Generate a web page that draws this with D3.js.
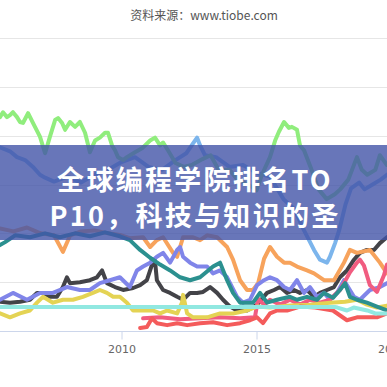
<!DOCTYPE html>
<html>
<head>
<meta charset="utf-8">
<script src="https://d3js.org/d3.v7.min.js"></script>
<style>
  body { margin: 0; background: #fff; }
  svg { display: block; }
</style>
</head>
<body>
<script>
// TIOBE style ratings (%), [year, rating]
var cLang = [[2005.5,18.8],[2005.69,18.6],[2005.87,18.4],[2006.13,17.8],[2006.43,17.5],[2006.72,16.8],[2006.98,16.0],[2007.17,15.7],
  [2007.5,15.3],[2008.0,15.8],[2008.5,15.2],[2009.0,16.0],[2009.5,16.5],[2010.0,17.3],[2010.5,17.8],[2011.0,16.8],[2011.5,16.5],
  [2012.0,17.5],[2012.4,18.2],[2012.65,19.2],[2012.8,19.8],[2012.91,19.0],[2013.09,18.0],[2013.5,17.8],[2014.0,16.8],[2014.5,17.0],
  [2015.0,16.2],[2015.5,15.8],[2016.0,13.5],[2016.4,12.5],[2016.76,10.3],[2017.13,8.3],[2017.35,7.3],[2017.61,7.0],[2017.72,7.6],
  [2017.91,9.0],[2018.06,10.3],[2018.3,13.0],[2018.5,14.6],[2018.8,15.2],[2019.0,14.5],[2019.3,15.0],[2019.6,15.5],[2019.83,16.0]];
var python = [[2005.5,3.0],[2005.87,2.9],[2006.24,3.0],[2006.61,3.2],[2006.87,3.9],[2007.09,3.9],[2007.35,3.5],[2007.61,3.5],
  [2007.83,4.5],[2007.98,5.5],[2008.09,4.9],[2008.46,5.0],[2008.83,5.2],[2009.09,5.5],[2009.28,6.2],[2009.46,4.9],[2009.76,4.5],
  [2010.06,4.2],[2010.43,4.4],[2010.69,4.7],[2010.94,5.2],[2011.13,6.8],[2011.24,7.2],[2011.31,5.2],[2011.54,4.2],[2011.8,3.9],
  [2012.06,3.5],[2012.28,3.2],[2012.54,3.9],[2012.8,3.9],[2013.02,4.0],[2013.28,4.5],[2013.54,3.9],[2013.76,3.2],[2014.02,2.5],
  [2014.28,2.1],[2014.65,2.1],[2015.02,2.7],[2015.39,3.9],[2015.65,4.2],[2015.87,4.5],[2016.13,3.9],[2016.39,4.2],[2016.61,3.9],
  [2016.87,4.2],[2017.13,3.5],[2017.35,3.9],[2017.61,4.2],[2017.87,4.5],[2018.09,5.5],[2018.35,6.2],[2018.61,7.3],[2018.83,8.0],
  [2019.09,8.3],[2019.35,8.3],[2019.57,9.0],[2019.83,9.6]];
var java = [[2005.5,21.9],[2005.61,22.4],[2005.76,21.9],[2005.87,22.1],[2005.98,22.4],[2006.13,21.9],[2006.24,21.4],[2006.35,21.3],
  [2006.54,22.3],[2006.72,21.3],[2006.98,19.9],[2007.17,18.2],[2007.35,19.9],[2007.54,21.6],[2007.65,21.8],[2007.8,21.3],
  [2007.91,20.6],[2008.09,21.4],[2008.28,20.9],[2008.46,21.4],[2008.65,20.3],[2008.83,18.3],[2009.02,19.5],[2009.2,19.8],
  [2009.39,20.3],[2009.5,20.3],[2009.65,19.0],[2009.76,18.5],[2009.87,17.8],[2010.06,17.5],[2010.2,17.8],[2010.5,18.3],
  [2010.76,18.7],[2011.06,19.5],[2011.24,19.8],[2011.43,19.0],[2011.54,19.3],[2011.72,18.5],[2012.0,17.2],[2012.3,16.8],
  [2012.6,17.0],[2013.0,17.6],[2013.3,18.0],[2013.6,16.5],[2014.0,16.5],[2014.3,15.5],[2014.7,15.0],[2015.0,14.4],[2015.2,16.0],
  [2015.5,17.8],[2015.69,19.5],[2015.83,20.4],[2016.02,21.4],[2016.2,20.8],[2016.31,20.9],[2016.5,20.6],[2016.61,19.0],
  [2016.76,18.5],[2017.0,16.8],[2017.3,14.5],[2017.6,13.5],[2017.9,14.0],[2018.1,14.5],[2018.4,15.5],[2018.72,17.8],
  [2018.9,16.5],[2019.1,16.0],[2019.4,16.5],[2019.57,18.0],[2019.83,17.0]];
var cpp = [[2005.5,10.5],[2006.0,10.2],[2006.5,10.6],[2007.0,10.0],[2007.5,9.8],[2007.83,8.1],[2008.1,9.8],[2008.5,10.2],
  [2009.0,10.3],[2009.5,10.0],[2010.0,9.8],[2010.3,9.5],[2010.8,9.6],[2011.06,8.6],[2011.31,9.3],[2011.54,9.6],[2011.91,8.0],
  [2012.06,7.6],[2012.28,9.6],[2012.65,9.6],[2012.91,9.3],[2013.17,9.8],[2013.54,9.6],[2013.91,8.6],[2014.13,7.3],[2014.39,5.2],
  [2014.65,4.2],[2014.87,4.2],[2015.06,4.9],[2015.28,7.4],[2015.5,8.6],[2015.76,7.6],[2016.02,7.0],[2016.24,7.0],[2016.5,6.6],
  [2016.87,6.2],[2017.13,5.9],[2017.5,5.2],[2017.87,5.2],[2018.24,7.0],[2018.46,8.3],[2018.72,8.0],[2019.2,8.3],[2019.57,7.0],
  [2019.83,5.9]];
var csharp = [[2005.5,3.2],[2005.98,3.9],[2006.5,3.2],[2006.98,3.9],[2007.46,3.9],[2007.98,4.5],[2008.46,4.2],[2008.83,4.2],
  [2009.2,4.9],[2009.57,5.2],[2009.94,5.5],[2010.31,4.5],[2010.57,6.2],[2010.8,6.6],[2011.06,7.0],[2011.31,7.6],[2011.54,8.0],
  [2011.8,7.0],[2012.06,8.3],[2012.17,8.6],[2012.28,7.6],[2012.54,7.0],[2012.8,6.6],[2013.17,6.6],[2013.39,5.9],[2013.65,6.2],
  [2013.91,5.5],[2014.02,4.9],[2014.28,3.5],[2014.5,2.9],[2014.76,3.2],[2015.02,4.7],[2015.28,5.2],[2015.5,5.5],[2015.76,5.2],
  [2016.02,4.5],[2016.24,4.2],[2016.5,5.2],[2016.76,3.9],[2016.98,4.5],[2017.24,3.5],[2017.5,3.9],[2017.72,3.2],[2017.98,3.9],
  [2018.24,5.2],[2018.61,3.5],[2018.83,3.2],[2019.2,4.2],[2019.57,4.5],[2019.83,4.9]];
var vbnet = [[2010.8,1.3],[2011.43,1.4],[2012.17,1.2],[2012.91,1.3],[2013.65,1.4],[2014.39,1.3],[2014.94,1.4],[2015.06,3.3],
  [2015.28,2.7],[2015.5,3.2],[2015.87,2.7],[2016.24,3.2],[2016.61,2.7],[2016.98,3.2],[2017.35,2.9],[2017.72,3.2],[2018.09,4.2],
  [2018.24,4.9],[2018.46,6.0],[2018.72,7.0],[2018.83,7.3],[2018.98,6.7],[2019.2,4.7],[2019.46,4.0],[2019.72,5.7],[2019.83,6.8]];
var jsLang = [[2005.5,1.8],[2005.87,1.4],[2006.24,1.8],[2006.61,2.1],[2006.87,2.9],[2007.09,3.5],[2007.46,2.9],[2007.83,3.2],
  [2008.2,3.2],[2008.57,3.5],[2008.94,3.9],[2009.2,4.2],[2009.46,3.9],[2009.69,3.5],[2009.94,3.5],[2010.2,2.9],[2010.43,2.1],
  [2010.8,2.1],[2011.17,2.1],[2011.43,1.8],[2011.69,2.1],[2012.06,1.8],[2012.24,2.9],[2012.28,3.7],[2012.43,1.8],[2012.65,1.4],
  [2013.17,1.4],[2013.65,1.8],[2014.13,1.8],[2014.65,2.1],[2015.02,2.5],[2015.5,2.4],[2016.24,2.6],[2016.98,2.7],[2017.72,2.9],
  [2018.28,3.0],[2018.72,3.2],[2019.09,2.7],[2019.46,2.4],[2019.83,2.6]];
var php = [[2005.5,8.8],[2005.69,9.1],[2006.06,9.8],[2006.61,9.6],[2007.17,10.0],[2007.72,9.6],[2008.28,10.0],[2008.83,9.7],
  [2009.39,10.1],[2009.94,9.7],[2010.31,9.3],[2010.69,8.3],[2011.06,7.5],[2011.43,6.8],[2011.8,6.2],[2012.17,5.5],[2012.54,5.2],
  [2012.91,5.5],[2013.39,6.6],[2013.65,7.0],[2013.91,5.2],[2014.13,3.9],[2014.39,2.9],[2014.87,2.9],[2015.13,3.9],[2015.39,2.9],
  [2015.76,3.2],[2016.24,3.5],[2016.5,3.2],[2016.87,3.5],[2017.24,3.2],[2017.5,3.9],[2017.83,3.4],[2018.09,4.2],[2018.28,4.9],
  [2018.46,3.5],[2018.72,3.2],[2019.09,2.9],[2019.46,2.5],[2019.83,2.1]];
var sqlLang = [[2010.69,0.3],[2010.94,0.4],[2011.13,1.3],[2011.31,0.8],[2011.69,0.6],[2012.06,0.8],[2012.43,0.6],[2012.91,0.8],
  [2013.39,0.9],[2013.91,0.6],[2014.39,0.8],[2014.76,1.1],[2015.02,1.4],[2015.24,0.8],[2015.5,1.8],[2015.76,2.1],[2016.13,2.1],
  [2016.61,2.5],[2017.17,2.4],[2017.83,2.1],[2018.35,1.1],[2018.72,1.4],[2019.09,1.4],[2019.46,1.4],[2019.83,1.8]];
var objc = [[2005.5,2.45],[2017.9,2.45],[2018.0,2.4],[2018.35,2.1],[2018.6,2.4],[2019.1,2.1],[2019.4,1.8],[2019.83,1.8]];

var seriesList = [cLang, python, java, cpp, csharp, vbnet, jsLang, php, sqlLang, objc];
var colors = ["#7cb5ec","#434348","#90ed7d","#f7a35c","#8085e9","#f15c80","#e4d354","#2b908f","#f45b5b","#91e8e1"];
var yTicks = [0, 5, 10, 15, 20, 25, 30];
var xTicks = [2010, 2015, 2020];
var sourceText = "资料来源：www.tiobe.com";
var bannerLines = ["全球编程学院排名TO", "P10，科技与知识的圣"];

var width = 387, height = 387;
var plotTop = 38, plotBottom = 331;

var svg = d3.select("body").append("svg")
  .attr("width", width)
  .attr("height", height);

var x = d3.scaleLinear().domain([2005.5, 2019.833]).range([0, width]);
var y = d3.scaleLinear().domain([0, 30]).range([plotBottom, plotTop]);

svg.append("text")
  .attr("x", 204)
  .attr("y", 20)
  .attr("text-anchor", "middle")
  .attr("font-family", "'Noto Sans CJK SC', 'Open Sans', sans-serif")
  .attr("font-size", 12)
  .attr("fill", "#555")
  .text(sourceText);

// grid
svg.append("g")
  .selectAll("line")
  .data(yTicks.slice(1))
  .enter()
  .append("line")
    .attr("x1", 0).attr("x2", width)
    .attr("y1", function(d) { return Math.round(y(d)) + 0.5; })
    .attr("y2", function(d) { return Math.round(y(d)) + 0.5; })
    .attr("stroke", "#e6e6e6");

var xAxis = svg.append("g")
  .attr("transform", "translate(0," + (plotBottom + 0.5) + ")")
  .call(d3.axisBottom(x).tickValues(xTicks).tickFormat(d3.format("d")).tickSize(8).tickPadding(6));
xAxis.select(".domain").attr("stroke", "#ccd6eb").attr("d", "M0,0H" + width);
xAxis.selectAll(".tick line").attr("stroke", "#ccd6eb");
xAxis.selectAll(".tick text")
  .attr("font-family", "'DejaVu Sans', sans-serif")
  .attr("font-size", 11)
  .attr("fill", "#666");

var line = d3.line()
  .x(function(d) { return x(d[0]); })
  .y(function(d) { return y(d[1]); });

svg.append("g")
  .selectAll("path")
  .data(seriesList)
  .enter()
  .append("path")
    .attr("d", line)
    .attr("fill", "none")
    .attr("stroke", function(d, i) { return colors[i]; })
    .attr("stroke-width", 4)
    .attr("stroke-linejoin", "round")
    .attr("stroke-linecap", "round");

// title banner over the chart
svg.append("rect")
  .attr("x", 0).attr("y", 145)
  .attr("width", width).attr("height", 95)
  .attr("fill", "rgba(66,84,168,0.8)");

svg.append("g")
  .selectAll("text")
  .data(bannerLines)
  .enter()
  .append("text")
    .attr("x", 195)
    .attr("y", function(d, i) { return 190 + i * 36; })
    .attr("text-anchor", "middle")
    .attr("font-family", "'Noto Sans CJK SC', sans-serif")
    .attr("font-weight", "bold")
    .attr("font-size", 27)
    .attr("letter-spacing", 2.3)
    .attr("fill", "#fff")
    .text(function(d) { return d; });
</script>
</body>
</html>
